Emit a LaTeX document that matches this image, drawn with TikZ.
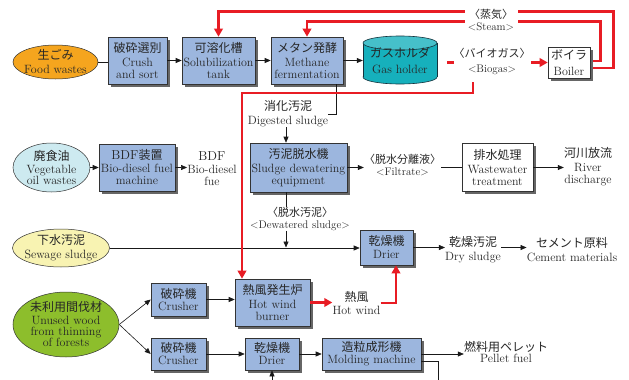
\documentclass[tikz,border=0pt]{standalone}
\usepackage{fontspec}
\newfontfamily\jpf{Noto Sans CJK JP}
\usetikzlibrary{arrows.meta,shadows,calc,shapes.geometric,backgrounds}
\definecolor{boxblue}{RGB}{156,182,222}
\definecolor{orangef}{RGB}{245,165,30}
\definecolor{tealb}{RGB}{22,176,188}
\definecolor{tealt}{RGB}{70,192,202}
\definecolor{tealdk}{RGB}{20,50,60}
\definecolor{lblue}{RGB}{205,234,240}
\definecolor{lyellow}{RGB}{248,243,178}
\definecolor{lgreen}{RGB}{141,190,44}
\definecolor{myred}{RGB}{232,28,36}
\newcommand\jtx[1]{{\jpf\fontsize{12pt}{12pt}\selectfont #1}}
\newcommand\jsm[1]{{\jpf\fontsize{11pt}{12pt}\selectfont #1}}
\begin{document}
\begin{tikzpicture}[x=1pt,y=-1pt,
 every node/.style={text=black!85},
 en/.style={font=\fontsize{12pt}{12pt}\selectfont},
 ensm/.style={font=\fontsize{11pt}{12pt}\selectfont},
 box/.style={rectangle, draw=black!80, line width=0.6pt, fill=boxblue, inner sep=0pt, align=center, en,
   drop shadow={shadow xshift=2.5pt, shadow yshift=-2.5pt, fill=black!60, opacity=1}},
 wbox/.style={box, fill=white},
 oval/.style={ellipse, draw=black!80, line width=0.5pt, inner sep=-4pt, align=center, en},
 lab/.style={inner sep=0pt, align=center, en},
 blab/.style={lab, ensm},
 ln/.style={draw=black!90, line width=0.6pt},
 arr/.style={ln, -{Triangle[length=6pt,width=5pt]}},
 rl/.style={draw=myred, line width=2.6pt},
 rarr/.style={rl, -{Triangle[length=8pt,width=8.5pt]}},
]
\useasboundingbox (0,0) rectangle (629,380);

% gas holder cylinder
\fill[tealb] (363,43) rectangle (437,77);
\filldraw[fill=tealb, draw=tealdk, line width=0.6pt] (400,77) ellipse [x radius=37pt, y radius=7pt];
\fill[tealb] (363,43) rectangle (437,77);
\draw[tealdk, line width=0.6pt] (363,43) -- (363,77) (437,43) -- (437,77);
\filldraw[fill=tealt, draw=tealdk, line width=0.6pt] (400,43) ellipse [x radius=37pt, y radius=7pt];

% nodes
\node[oval, fill=orangef, minimum width=85pt, minimum height=34pt] (food) at (55.5,62) {\jtx{生ごみ}\\[2pt]Food wastes};
\node[box, minimum width=59pt, minimum height=47pt] (crush) at (137.5,60.5) {\jtx{破砕選別}\\[2pt]Crush\\and sort};
\node[box, minimum width=73pt, minimum height=47pt] (solub) at (218.5,60.5) {\jtx{可溶化槽}\\[2pt]Solubilization\\tank};
\node[box, minimum width=72pt, minimum height=47pt] (methane) at (307,60.5) {\jtx{メタン発酵}\\[2pt]Methane\\fermentation};
\node[lab, minimum width=74pt, minimum height=48pt] (gas) at (400,61) {\jtx{ガスホルダ}\\[4pt]Gas holder};
\node[wbox, minimum width=42pt, minimum height=31pt] (boiler) at (569,62.5) {\jtx{ボイラ}\\[4pt]Boiler};

\node[oval, fill=lblue, minimum width=77pt, minimum height=49pt] (veg) at (51.5,167.5) {\jtx{廃食油}\\[1pt]Vegetable\\[-1pt]oil wastes};
\node[box, minimum width=76pt, minimum height=47pt] (bdf) at (137,167.5) {{\fontsize{13pt}{13pt}\selectfont BDF}\jtx{装置}\\[1pt]Bio-diesel fuel\\machine};
\node[lab] (bdflab) at (212,169) {{\fontsize{13pt}{13pt}\selectfont BDF}\\[1pt]Bio-diesel\\fue};
\node[box, minimum width=97pt, minimum height=49pt] (sdw) at (298.5,167.5) {\jtx{汚泥脱水機}\\[2pt]Sludge dewatering\\equipment};
\node[lab] (digested) at (288,114) {\jtx{消化汚泥}\\[2pt]Digested sludge};
\node[blab] (filt) at (402.5,165) {\jsm{〈脱水分離液〉}\\<Filtrate>};
\node[wbox, minimum width=71pt, minimum height=48pt] (ww) at (497.5,167.5) {\jtx{排水処理}\\[2pt]Wastewater\\treatment};
\node[lab] (river) at (588,167) {\jtx{河川放流}\\[2pt]River\\discharge};
\node[blab] (dewlab) at (300,219) {\jsm{〈脱水汚泥〉}\\<Dewatered sludge>};

\node[oval, fill=lyellow, minimum width=97pt, minimum height=38pt] (sewage) at (61,248) {\jtx{下水汚泥}\\[2pt]Sewage sludge};
\node[box, minimum width=53pt, minimum height=35pt] (drier1) at (386.5,247.5) {\jtx{乾燥機}\\[1pt]Drier};
\node[lab] (drysl) at (473,250) {\jtx{乾燥汚泥}\\[2pt]Dry sludge};
\node[lab] (cement) at (572,250) {\jtx{セメント原料}\\[2pt]Cement materials};

\node[oval, fill=lgreen, minimum width=106pt, minimum height=65pt] (wood) at (66,324.5) {\jtx{未利用間伐材}\\[1pt]Unused wood\\[-1pt]from thinning\\[-1pt]of forests};
\node[box, minimum width=55pt, minimum height=33pt] (crusher1) at (178.5,299.5) {\jtx{破砕機}\\Crusher};
\node[box, minimum width=75pt, minimum height=47pt] (burner) at (272.5,302.5) {\jtx{熱風発生炉}\\[2pt]Hot wind\\burner};
\node[lab] (hotwind) at (356.5,303) {\jtx{熱風}\\[1pt]Hot wind};
\node[box, minimum width=55pt, minimum height=32pt] (crusher2) at (178.5,354) {\jtx{破砕機}\\Crusher};
\node[box, minimum width=54pt, minimum height=32pt] (drier2) at (272,354) {\jtx{乾燥機}\\Drier};
\node[box, minimum width=99pt, minimum height=32pt] (molding) at (371.5,354) {\jtx{造粒成形機}\\Molding machine};
\node[lab] (pellet) at (506,352) {\jtx{燃料用ペレット}\\[-1pt]Pellet fuel};

\node[blab, fill=white, minimum width=53pt] (steam) at (491,20) {\jsm{〈蒸気〉}\\<Steam>};
\node[blab, fill=white] (biogas) at (492,61.5) {\jsm{〈バイオガス〉}\\[3pt]<Biogas>};

% black connectors
\coordinate (vx) at (286,0);
\draw[ln] (food.east) -- (food.east -| crush.west);
\draw[arr] (crush.east) -- (solub.west);
\draw[arr] (solub.east) -- (methane.west);
\draw[arr] (methane.east) -- (methane.east -| gas.west);
\draw[ln] ($(methane.south)+(29,0)$) |- (digested.east);
\draw[arr] (vx |- digested.south) -- (vx |- sdw.north);
\draw[ln] (vx |- sdw.south) -- (vx |- dewlab.north);
\draw[arr] (vx |- dewlab.south) -- (vx |- drier1.west);
\draw[arr] (sewage.east) -- (sewage.east -| drier1.west);
\draw[arr] (veg.east) -- (bdf.west);
\draw[arr] (bdf.east) -- (bdf.east -| bdflab.west);
\draw[arr] (sdw.east) -- (sdw.east -| filt.west);
\draw[ln] (filt.east |- sdw.east) -- (sdw.east -| ww.west);
\draw[arr] (ww.east) -- (ww.east -| river.west);
\draw[arr] (drier1.east) -- (drier1.east -| drysl.west);
\draw[arr] (drysl.east |- drier1.east) -- (drier1.east -| cement.west);
\draw[arr] (wood.east) -- (crusher1.west);
\draw[arr] (wood.east) -- (crusher2.west);
\draw[arr] (crusher1.east) -- (crusher1.east -| burner.west);
\draw[arr] (crusher2.east) -- (drier2.west);
\draw[arr] (drier2.east) -- (molding.west);
\draw[arr] (molding.east) -- (molding.east -| pellet.west);
\coordinate (mbot) at (438,380);
\draw[ln] ($(molding.east)+(0,7)$) -| (mbot);
\coordinate (dbot) at (272,380);
\draw[arr] (dbot) -- (drier2.south);

% red connectors
\draw[rarr] (burner.east) -- (burner.east -| hotwind.west);
\coordinate (hwx) at (396,0);
\draw[rarr] (hotwind.east) -| (hwx |- drier1.south);
\coordinate (bgdrop) at (473,82);
\coordinate (bgturn) at (242,93);
\draw[rarr] (bgdrop) |- (bgturn) -- (bgturn |- burner.north);

\begin{scope}[on background layer]
\fill[white] (0,0) rectangle (629,380);
\draw[rarr] ($(boiler.east)+(0,-1.5)$) -- ++(10,0) |- ($(methane.north)+(0,-15)$) -- (methane.north);
\draw[rarr] ($(boiler.east)+(0,5.5)$) -- ++(23,0) |- ($(solub.north)+(0,-25)$) -- (solub.north);
\draw[rarr] ($(gas.east)+(10,1.5)$) -- (boiler.west);
\end{scope}
\end{tikzpicture}
\end{document}
